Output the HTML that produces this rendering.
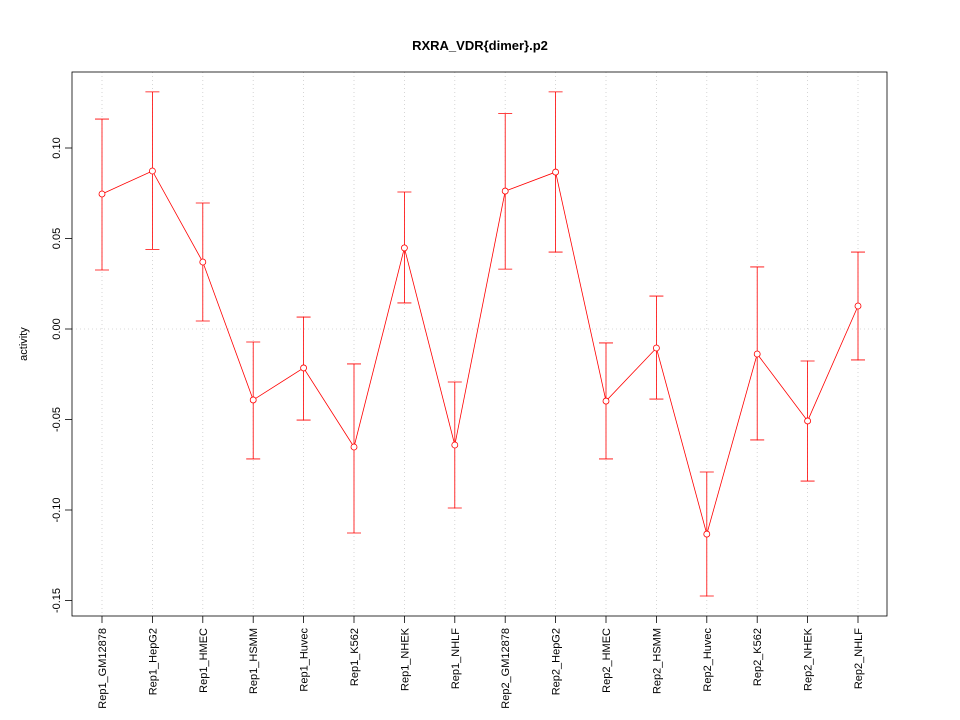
<!DOCTYPE html>
<html><head><meta charset="utf-8"><style>
body{margin:0;background:#fff}
svg{display:block;font-family:"Liberation Sans",sans-serif}
</style></head><body>
<svg id="c" width="960" height="720">
<text x="480" y="50" text-anchor="middle" font-size="13" font-weight="bold">RXRA_VDR{dimer}.p2</text>
<text transform="translate(27,344) rotate(-90)" text-anchor="middle" font-size="11">activity</text>
</svg>
<script>
const categories=["Rep1_GM12878","Rep1_HepG2","Rep1_HMEC","Rep1_HSMM","Rep1_Huvec","Rep1_K562","Rep1_NHEK","Rep1_NHLF","Rep2_GM12878","Rep2_HepG2","Rep2_HMEC","Rep2_HSMM","Rep2_Huvec","Rep2_K562","Rep2_NHEK","Rep2_NHLF"];
const values=[0.0746,0.0873,0.037,-0.0392,-0.0215,-0.0652,0.0448,-0.0641,0.0762,0.0867,-0.0398,-0.0105,-0.1133,-0.0138,-0.0508,0.0127];
const upper=[0.116,0.131,0.0696,-0.0072,0.0066,-0.0193,0.0757,-0.0293,0.119,0.131,-0.0077,0.0182,-0.079,0.0343,-0.0177,0.0425];
const lower=[0.0326,0.044,0.0044,-0.0718,-0.0503,-0.1127,0.0144,-0.0989,0.0331,0.0425,-0.0718,-0.0387,-0.1475,-0.0613,-0.084,-0.0171];
const yTicks=[-0.15,-0.10,-0.05,0.00,0.05,0.10];
const yTickLabels=["-0.15","-0.10","-0.05","0.00","0.05","0.10"];
const svg=document.getElementById('c');const NS="http://www.w3.org/2000/svg";
const L=72,R=887,T=72,B=616;
const x=i=>102+i*(858-102)/(categories.length-1);
const y=v=>329-v*1810;
function mk(t,a,p){const e=document.createElementNS(NS,t);for(const k in a)e.setAttribute(k,a[k]);(p||svg).appendChild(e);return e;}
categories.forEach((c,i)=>{
const g=mk('line',{x1:x(i),x2:x(i),y1:T,y2:B,stroke:'#ccc','stroke-dasharray':'1,3','stroke-width':0.8});


});
const h=mk('line',{x1:L,x2:R,y1:y(0),y2:y(0),stroke:'#ccc','stroke-dasharray':'1,3','stroke-width':0.8});


const fr=mk('rect',{x:L,y:T,width:R-L,height:B-T,fill:'none',stroke:'#000','stroke-width':0.8});


yTicks.forEach((v,i)=>{
const t=mk('line',{x1:L-7,x2:L,y1:y(v),y2:y(v),stroke:'#000','stroke-width':0.8});


const tx=mk('text',{x:0,y:0,transform:`translate(${L-12},${y(v)}) rotate(-90)`,'text-anchor':'middle','font-size':11});
tx.textContent=yTickLabels[i];


});
categories.forEach((c,i)=>{
const t=mk('line',{x1:x(i),x2:x(i),y1:B,y2:B+7,stroke:'#000','stroke-width':0.8});


const tx=mk('text',{x:0,y:0,transform:`translate(${x(i)+4},${B+12}) rotate(-90)`,'text-anchor':'end','font-size':11});
tx.textContent=c;


});
categories.forEach((c,i)=>{
const eb=mk('path',{d:`M${x(i)},${y(upper[i])}V${y(lower[i])}M${x(i)-7},${y(upper[i])}H${x(i)+7}M${x(i)-7},${y(lower[i])}H${x(i)+7}`,stroke:'#f00',fill:'none','stroke-width':0.8});


});
const ln=mk('polyline',{points:values.map((v,i)=>x(i)+','+y(v)).join(' '),fill:'none',stroke:'#f00','stroke-width':0.8});


values.forEach((v,i)=>{
const p=mk('circle',{cx:x(i),cy:y(v),r:3,fill:'#fff',stroke:'#f00','stroke-width':0.8});


});
</script>
</body></html>
